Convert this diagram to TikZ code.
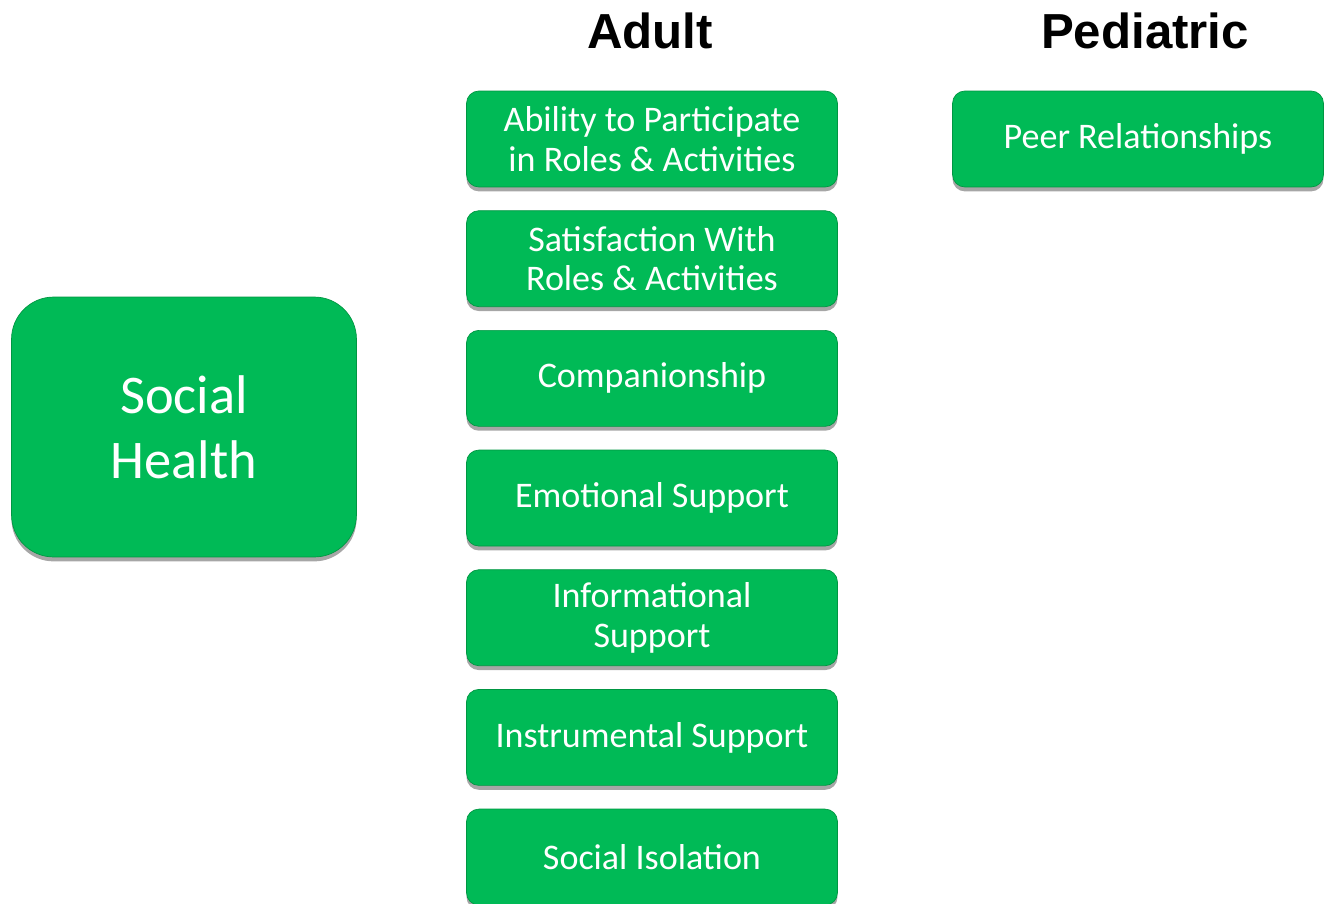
\documentclass[tikz,border=0pt]{standalone}
\usepackage{fontspec}
\setmainfont{Carlito}
\newfontfamily\headfont{Liberation Sans}
\usepackage{tikz}
\usetikzlibrary{positioning, shadows}
\usepackage{xcolor}
\definecolor{boxgreen}{RGB}{0,186,86}
\definecolor{edgegreen}{RGB}{0,150,66}

\begin{document}
\begin{tikzpicture}[x=0.02cm, y=-0.02cm,
  topic/.style={draw=edgegreen, thin, fill=boxgreen, rounded corners=7pt, text=white,
    minimum width=7.42cm, minimum height=1.92cm, align=center, inner sep=0pt,
    font=\fontsize{20.5}{22.5}\selectfont,
    drop shadow={shadow xshift=0pt, shadow yshift=-2.5pt, opacity=0.35, fill=black}},
  mainbox/.style={topic, rounded corners=24pt, minimum width=6.9cm, minimum height=5.2cm,
    font=\fontsize{31}{37}\selectfont},
  header/.style={font=\headfont\bfseries\fontsize{28}{32}\selectfont}]
  \useasboundingbox (0,0) rectangle (1329,903);

  \node[mainbox] (social) at (184,427) {Social\\Health};

  \node[header] (adult) at (650,31) {Adult};
  \node[header] (peds) at (1145,31) {Pediatric};

  \node[topic] (ability) at (652,139) {Ability to Participate\\in Roles \& Activities};
  \node[topic, below=0.46cm of ability] (satisf) {Satisfaction With\\Roles \& Activities};
  \node[topic, below=0.46cm of satisf] (compan) {Companionship};
  \node[topic, below=0.46cm of compan] (emosup) {Emotional Support};
  \node[topic, below=0.46cm of emosup] (infosup) {Informational\\Support};
  \node[topic, below=0.46cm of infosup] (instsup) {Instrumental Support};
  \node[topic, below=0.46cm of instsup] (isolate) {Social Isolation};

  \node[topic] (peer) at (1138,139) {Peer Relationships};
\end{tikzpicture}
\end{document}
